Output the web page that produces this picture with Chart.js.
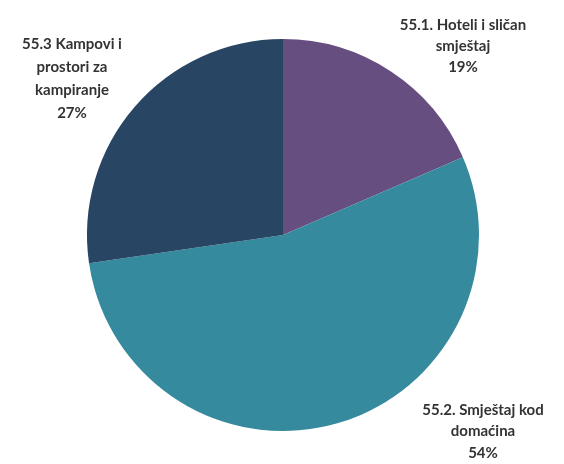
<!DOCTYPE html>
<html>
<head>
<meta charset="utf-8">
<script src="https://cdn.jsdelivr.net/npm/chart.js@4"></script>
<style>
  html, body { margin: 0; padding: 0; background: #fff; }
  #wrap { width: 564px; height: 464px; }
</style>
</head>
<body>
<div id="wrap"><canvas id="pie"></canvas></div>
<script>
// podaci
const categories = ['55.1. Hoteli i sličan smještaj', '55.2. Smještaj kod domaćina', '55.3 Kampovi i prostori za kampiranje'];
const shares = [18.5, 54.2, 27.3];
const labelLines = [
  ['55.1. Hoteli i sličan', 'smještaj', '19%'],
  ['55.2. Smještaj kod', 'domaćina', '54%'],
  ['55.3 Kampovi i', 'prostori za', 'kampiranje', '27%']
];
const colors = ['#664f80', '#368a9e', '#284564'];

// položaj natpisa (x centar, y prve linije, razmak)
const labelPos = [
  { x: 463, y: 25, lh: 21 },
  { x: 483, y: 410, lh: 21.5 },
  { x: 72, y: 44, lh: 23 }
];

const outsideLabels = {
  id: 'outsideLabels',
  afterDraw(chart) {
    const ctx = chart.ctx;
    ctx.save();
    ctx.fillStyle = '#333333';
    ctx.font = 'bold 15px Lato';
    ctx.textAlign = 'center';
    ctx.textBaseline = 'middle';
    labelLines.forEach((lines, i) => {
      const p = labelPos[i];
      lines.forEach((t, j) => ctx.fillText(t, p.x, p.y + j * p.lh));
    });
    ctx.restore();
  }
};

new Chart(document.getElementById('pie'), {
  type: 'pie',
  data: {
    labels: categories,
    datasets: [{ data: shares, backgroundColor: colors, borderWidth: 0 }]
  },
  options: {
    responsive: true,
    maintainAspectRatio: false,
    animation: false,
    layout: { padding: { top: 39, bottom: 33, left: 87, right: 85 } },
    plugins: {
      legend: { display: false },
      tooltip: { enabled: false }
    }
  },
  plugins: [outsideLabels]
});
</script>
</body>
</html>
